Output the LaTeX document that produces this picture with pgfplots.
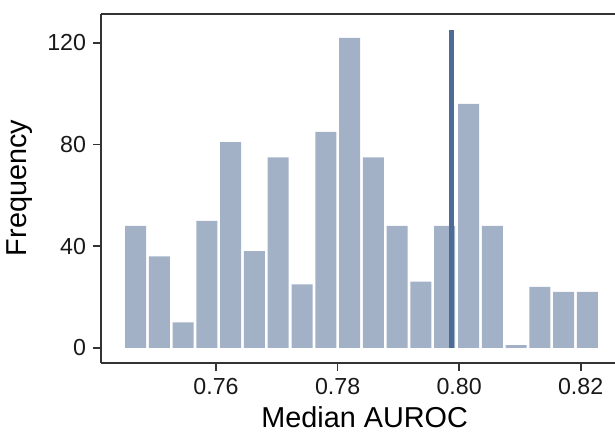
\documentclass[border=0pt]{standalone}
\usepackage{fontspec}
\setmainfont{Liberation Sans}
\usepackage{pgfplots}
\pgfplotsset{compat=1.18}
\definecolor{barcol}{HTML}{A3B1C7}
\definecolor{linecol}{HTML}{4C6B97}
\definecolor{axcol}{HTML}{333333}
\begin{document}
\begin{tikzpicture}
\useasboundingbox (-50.5bp,-34.5bp) rectangle (257bp,181.5bp);
\begin{axis}[
  at={(0,0)}, anchor=south west,
  scale only axis, width=257bp, height=174.5bp,
  xmin=0.74107, xmax=0.82565, ymin=-6, ymax=131.4,
  axis x line*=box, axis y line*=left,
  x axis line style={-}, y axis line style={-},
  axis line style={axcol, line width=0.85bp},
  xtick pos=bottom, ytick pos=left,
  tick align=outside, major tick length=4bp,
  tick style={axcol, line width=0.85bp},
  xtick={0.76,0.78,0.80,0.82},
  xticklabels={0.76,0.78,0.80,0.82},
  ytick={0,40,80,120},
  /pgf/number format/assume math mode=true,
  tick label style={font=\fontsize{11.6bp}{13bp}\selectfont, text=black!90},
  xlabel={Median AUROC},
  ylabel={Frequency},
  label style={font=\fontsize{14.4bp}{16bp}\selectfont, text=black},
  xlabel style={at={(axis description cs:0.513,-0.1834)}, anchor=base},
  ylabel style={at={(axis description cs:-0.144,0.5014)}, anchor=base, rotate=0},
  clip=false,
]
\addplot[ybar, bar shift=0pt, bar width=0.00346, fill=barcol, draw=none] table {
x y
0.74675 48
0.75066 36
0.75458 10
0.75849 50
0.76241 81
0.76632 38
0.77023 75
0.77415 25
0.77806 85
0.78198 122
0.78589 75
0.78980 48
0.79372 26
0.79763 48
0.80155 96
0.80546 48
0.80937 1
0.81329 24
0.81720 22
0.82112 22
};
\addplot[linecol, line width=2.4bp, line cap=butt] coordinates {(0.79875,0) (0.79875,125)};
\end{axis}
\end{tikzpicture}
\end{document}
